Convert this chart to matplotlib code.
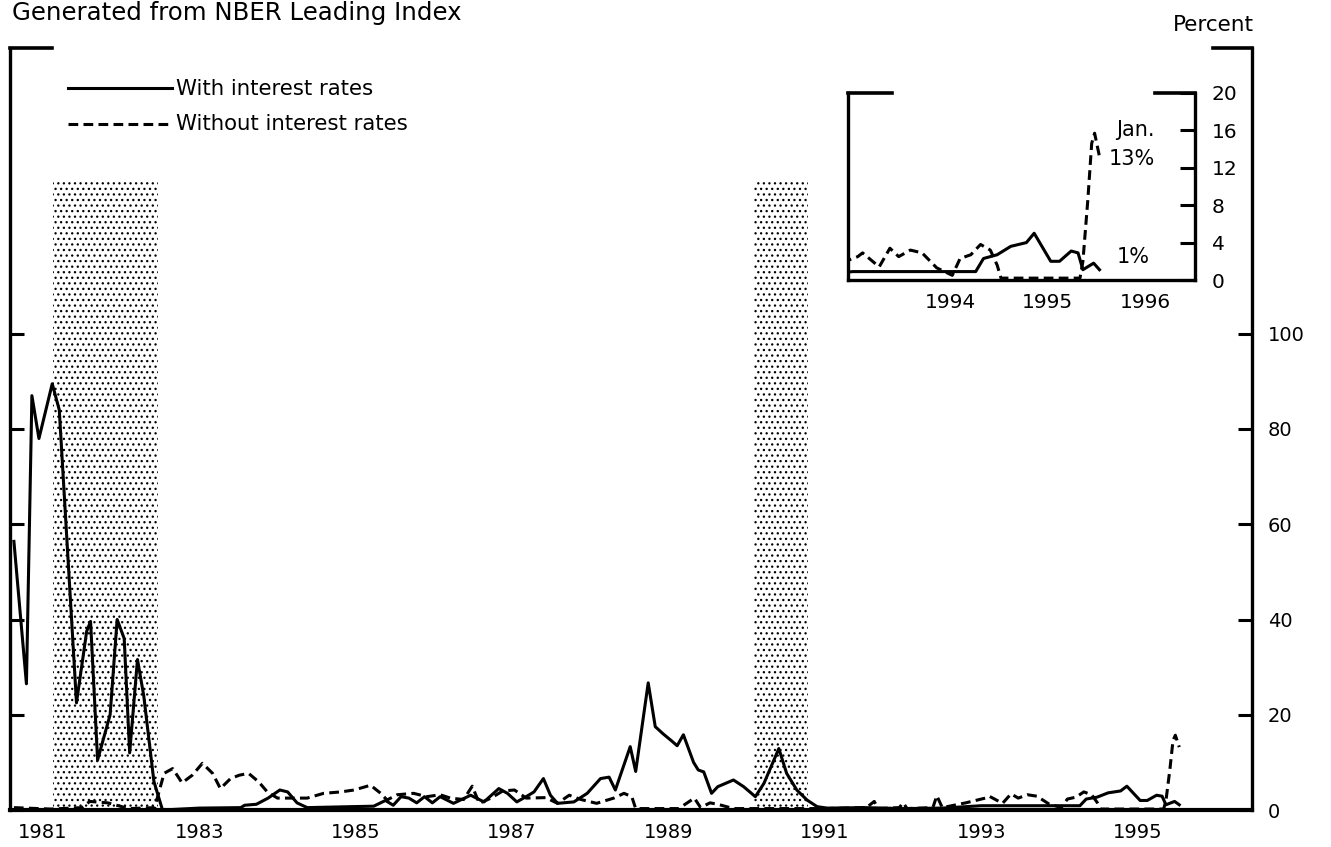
import matplotlib
matplotlib.use("Agg")
import matplotlib.pyplot as plt
from matplotlib.lines import Line2D

plt.rcParams['font.family'] = ['DejaVu Sans']
plt.rcParams['lines.scale_dashes'] = False
plt.rcParams['hatch.linewidth'] = 0.9
plt.rcParams['hatch.color'] = 'black'

# ---------------- data (decimal years, percent) ----------------
solid_years = [1981.13, 1981.29, 1981.36, 1981.45, 1981.62, 1981.71, 1981.93, 1982.06, 1982.11,
               1982.20, 1982.36, 1982.45, 1982.54, 1982.61, 1982.71, 1982.79, 1982.92, 1983.03,
               1983.50, 1984.03, 1984.08, 1984.23, 1984.38, 1984.53, 1984.63, 1984.75, 1984.88,
               1985.43, 1985.73, 1985.88, 1985.98, 1986.08, 1986.18, 1986.28, 1986.38, 1986.48,
               1986.58, 1986.75, 1986.97, 1987.14, 1987.33, 1987.44, 1987.56, 1987.71, 1987.78,
               1987.90, 1987.99, 1988.08, 1988.29, 1988.46, 1988.63, 1988.74, 1988.82, 1989.01,
               1989.08, 1989.24, 1989.33, 1989.43, 1989.54, 1989.61, 1989.69, 1989.82, 1989.88,
               1989.95, 1990.05, 1990.13, 1990.33, 1990.46, 1990.61, 1990.72, 1990.91, 1991.01,
               1991.14, 1991.27, 1991.40, 1991.53, 1992.00, 1992.50, 1993.00, 1993.50, 1994.76,
               1994.84, 1994.98, 1995.12, 1995.28, 1995.36, 1995.53, 1995.62, 1995.74, 1995.81,
               1995.86, 1995.97, 1996.03]
solid_values = [56.4, 26.5, 87.0, 78.0, 89.5, 84.0, 22.5, 37.5, 39.6,
                10.5, 20.0, 40.0, 36.0, 12.0, 31.6, 24.0, 6.0, 0.0,
                0.4, 0.5, 1.0, 1.2, 2.5, 4.2, 3.8, 1.5, 0.5,
                0.7, 0.8, 2.0, 1.0, 2.8, 2.5, 1.5, 2.8, 1.5,
                2.8, 1.4, 3.1, 1.7, 4.5, 3.5, 1.7, 3.1, 3.8,
                6.6, 3.1, 1.4, 1.7, 3.5, 6.6, 6.9, 4.2, 13.3,
                8.1, 26.7, 17.5, 16.0, 14.5, 13.5, 15.8, 10.0, 8.4,
                8.0, 3.5, 4.9, 6.3, 4.9, 2.8, 5.6, 12.9, 7.7,
                4.2, 2.1, 0.7, 0.4, 0.5, 0.3, 0.4, 0.9, 0.9,
                2.3, 2.7, 3.6, 4.0, 5.0, 2.0, 2.0, 3.1, 2.9,
                1.1, 1.8, 1.1]

dashed_years = [1981.13, 1981.60, 1982.00, 1982.10, 1982.33, 1982.60, 1982.93, 1983.05, 1983.16,
                1983.28, 1983.41, 1983.54, 1983.67, 1983.77, 1983.90, 1984.01, 1984.13, 1984.26,
                1984.37, 1984.50, 1984.67, 1984.88, 1985.09, 1985.31, 1985.48, 1985.69, 1985.82,
                1985.90, 1986.03, 1986.24, 1986.41, 1986.58, 1986.71, 1986.88, 1986.99, 1987.08,
                1987.23, 1987.38, 1987.53, 1987.68, 1987.93, 1988.08, 1988.23, 1988.38, 1988.58,
                1988.80, 1988.93, 1989.03, 1989.08, 1989.63, 1989.73, 1989.83, 1989.91, 1990.03,
                1990.13, 1990.33, 1991.50, 1992.03, 1992.13, 1992.18, 1992.45, 1992.50, 1992.55,
                1992.88, 1992.93, 1993.00, 1993.30, 1993.55, 1993.60, 1993.77, 1993.88, 1993.97,
                1994.09, 1994.21, 1994.36, 1994.52, 1994.60, 1994.71, 1994.81, 1994.91, 1994.98,
                1995.02, 1995.83, 1995.86, 1995.91, 1995.95, 1995.98, 1996.03]
dashed_values = [0.5, 0.2, 0.5, 1.8, 1.5, 0.3, 0.5, 7.7, 8.7,
                 5.7, 7.3, 9.8, 7.7, 4.5, 6.6, 7.3, 7.7, 5.9,
                 3.8, 2.5, 2.5, 2.5, 3.5, 3.8, 4.2, 5.2, 3.5,
                 2.1, 3.2, 3.5, 2.8, 3.2, 2.5, 2.2, 5.0, 1.4,
                 2.5, 4.0, 4.2, 2.5, 2.6, 1.4, 3.1, 2.2, 1.4,
                 2.5, 3.5, 2.8, 0.3, 0.3, 1.4, 2.5, 0.5, 1.5,
                 1.2, 0.3, 0.3, 0.5, 1.8, 0.3, 0.5, 1.5, 0.3,
                 0.5, 3.0, 0.5, 1.5, 2.5, 2.9, 1.4, 3.4, 2.5,
                 3.2, 2.9, 1.3, 0.5, 2.3, 2.7, 3.8, 3.2, 1.6,
                 0.2, 0.2, 2.0, 8.5, 14.6, 15.7, 13.2]

recession_starts = [1981.63, 1990.59]
recession_ends = [1982.97, 1991.28]
recession_top = 132

main_xtick_years = [1981, 1983, 1985, 1987, 1989, 1991, 1993, 1995]
main_yticks = [0, 20, 40, 60, 80, 100]
inset_xtick_years = [1994, 1995, 1996]
inset_yticks = [0, 4, 8, 12, 16, 20]

legend_labels = ["With interest rates", "Without interest rates"]

# ---------------- figure ----------------
W, H = 1331, 847
fig = plt.figure(figsize=(W / 100, H / 100), dpi=100)
fig.patch.set_facecolor('white')

LW = 2.2
DASH = (7, 3.8)

ax = fig.add_axes([10 / W, 37 / H, 1242 / W, 762 / H])
ax.set_xlim(1981.08, 1996.96)
ax.set_ylim(0, 160)

for s, e in zip(recession_starts, recession_ends):
    ax.fill_between([s, e], 0, recession_top, facecolor='white', edgecolor='black',
                    hatch='...', linewidth=0, zorder=1)

ax.plot(solid_years, solid_values, color='black', lw=LW, zorder=3)
ax.plot(dashed_years, dashed_values, color='black', lw=LW, ls=(0, DASH), zorder=3)

for sp in ['left', 'right']:
    ax.spines[sp].set_linewidth(2.4)
ax.spines['bottom'].set_linewidth(3.0)
ax.spines['top'].set_visible(False)
# top brackets
ax.plot([0, 0.034], [1, 1], transform=ax.transAxes, color='black', lw=2.6, clip_on=False,
        solid_capstyle='projecting')
ax.plot([0.9686, 1], [1, 1], transform=ax.transAxes, color='black', lw=2.6, clip_on=False,
        solid_capstyle='projecting')

ax.set_yticks(main_yticks)
ax.set_yticklabels([str(v) for v in main_yticks])
ax.tick_params(axis='y', left=True, right=True, labelleft=False, labelright=True,
               direction='in', length=10, width=2.2, pad=11.5, labelsize=14)
ax.set_xticks([y + 0.5 for y in main_xtick_years])
ax.set_xticklabels([str(y) for y in main_xtick_years])
ax.tick_params(axis='x', length=0, pad=9, labelsize=14)

# legend (manual)
fig.add_artist(Line2D([68 / W, 172 / W], [1 - 88 / H] * 2, color='black', lw=LW))
fig.add_artist(Line2D([68 / W, 172 / W], [1 - 124 / H] * 2, color='black', lw=LW, ls=(0, DASH)))
fig.text(176 / W, 1 - 89 / H, legend_labels[0], fontsize=15.3, va='center', ha='left')
fig.text(176 / W, 1 - 124 / H, legend_labels[1], fontsize=15.3, va='center', ha='left')

fig.text(12 / W, 1 - 20 / H, "Generated from NBER Leading Index", fontsize=17.6,
         va='baseline', ha='left')
fig.text(1254 / W, 1 - 31 / H, "Percent", fontsize=15.5, va='baseline', ha='right')

# ---------------- inset ----------------
ax2 = fig.add_axes([848 / W, (H - 280) / H, 347 / W, 187 / H])
ax2.set_xlim(1993.45, 1997.01)
ax2.set_ylim(0, 20)
ax2.plot(solid_years, solid_values, color='black', lw=LW, zorder=3)
ax2.plot(dashed_years, dashed_values, color='black', lw=LW, ls=(0, DASH), zorder=3)
for sp in ['left', 'right', 'bottom']:
    ax2.spines[sp].set_linewidth(2.4)
ax2.spines['top'].set_visible(False)
ax2.plot([0, 0.127], [1, 1], transform=ax2.transAxes, color='black', lw=2.6, clip_on=False,
         solid_capstyle='projecting')
ax2.plot([0.885, 1], [1, 1], transform=ax2.transAxes, color='black', lw=2.6, clip_on=False,
         solid_capstyle='projecting')
ax2.set_yticks(inset_yticks)
ax2.set_yticklabels([str(v) for v in inset_yticks])
ax2.tick_params(axis='y', left=False, right=True, labelleft=False, labelright=True,
                direction='in', length=11, width=2.2, pad=12, labelsize=14.5)
ax2.set_xticks([y + 0.5 for y in inset_xtick_years])
ax2.set_xticklabels([str(y) for y in inset_xtick_years])
ax2.tick_params(axis='x', length=0, pad=9, labelsize=14.5)

ax2.text(0.885, 0.802, "Jan.", transform=ax2.transAxes, fontsize=15, ha='right', va='center')
ax2.text(0.885, 0.647, "13%", transform=ax2.transAxes, fontsize=15, ha='right', va='center')
ax2.text(0.775, 0.123, "1%", transform=ax2.transAxes, fontsize=15, ha='left', va='center')

fig.savefig("out.png", dpi=100)
